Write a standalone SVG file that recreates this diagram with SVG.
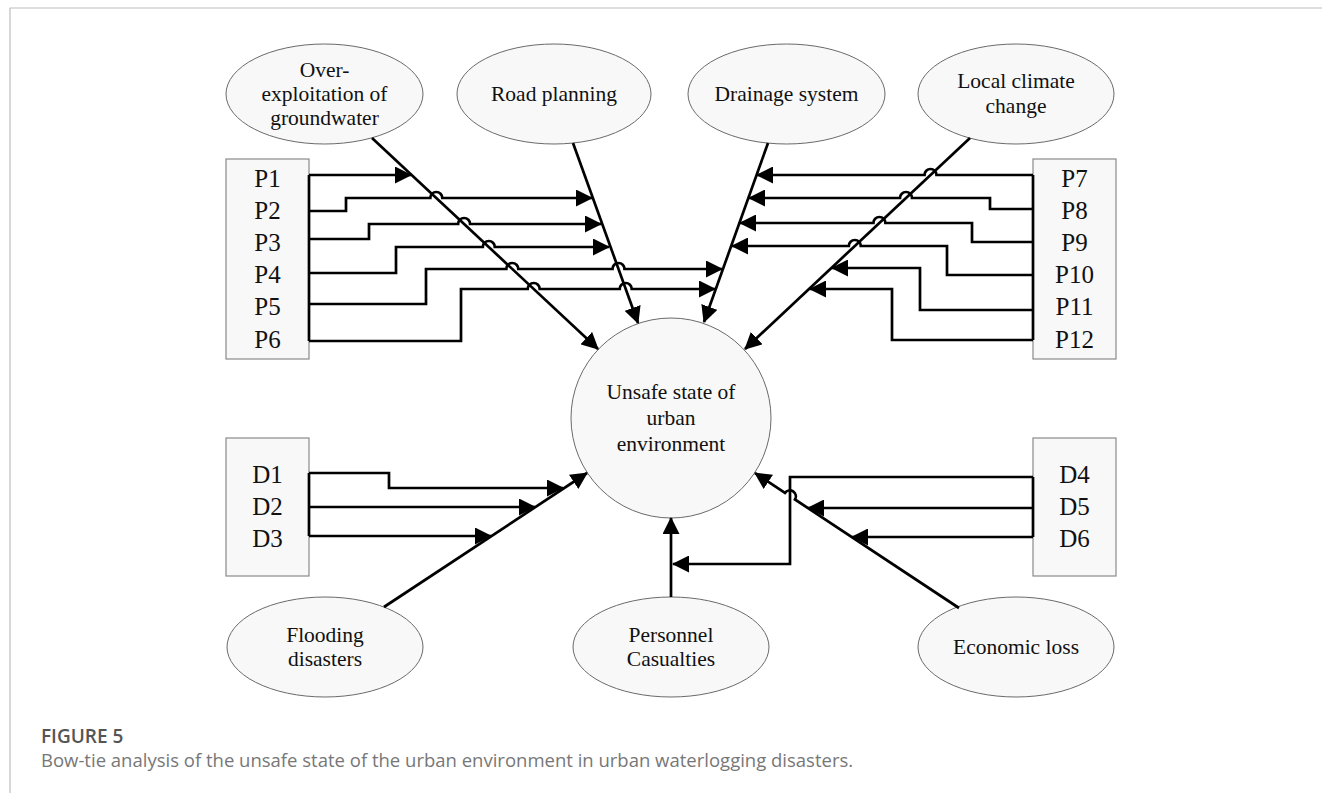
<svg xmlns="http://www.w3.org/2000/svg" width="1322" height="793" viewBox="0 0 1322 793">
  <defs>
    <style>
      .nd { fill: #f8f8f8; stroke: #6a6a6a; stroke-width: 1; }
      .bx { fill: #f8f8f8; stroke: #8a8a8a; stroke-width: 1.2; }
      .t { font-family: "Liberation Serif", "Times New Roman", serif; font-size: 21.5px; fill: #111; text-anchor: middle; }
      .lb { font-size: 25px; }
      .cn path { stroke: #000; stroke-width: 2.7; fill: none; }
      .cap1 { font-family: "Open Sans", "Noto Sans", sans-serif; font-size: 19px; font-weight: 600; fill: #555; }
      .cap2 { font-family: "Open Sans", "Noto Sans", sans-serif; font-size: 18.5px; fill: #777; }
    </style>
    <marker id="ah" markerWidth="18" markerHeight="17" refX="16" refY="8.5" orient="auto" markerUnits="userSpaceOnUse">
      <path d="M0,0 L17,8.5 L0,17 z" fill="#000"/>
    </marker>
  </defs>

  <rect width="1322" height="793" fill="#fff"/>
  <!-- page frame -->
  <path d="M10,793 V8 H1322" fill="none" stroke="#bdbdbd" stroke-width="1.2"/>

  <!-- causes (top) -->
  <g id="cause-groundwater">
    <ellipse class="nd" cx="324.5" cy="94" rx="98.5" ry="50"/>
    <text class="t" x="324.5" y="77">Over-</text>
    <text class="t" x="324.5" y="101">exploitation of</text>
    <text class="t" x="324.5" y="125">groundwater</text>
  </g>
  <g id="cause-road">
    <ellipse class="nd" cx="554" cy="94" rx="97" ry="50"/>
    <text class="t" x="554" y="101">Road planning</text>
  </g>
  <g id="cause-drainage">
    <ellipse class="nd" cx="786.5" cy="94" rx="98.5" ry="50"/>
    <text class="t" x="786.5" y="101">Drainage system</text>
  </g>
  <g id="cause-climate">
    <ellipse class="nd" cx="1016" cy="94" rx="98" ry="50"/>
    <text class="t" x="1016" y="88">Local climate</text>
    <text class="t" x="1016" y="113">change</text>
  </g>

  <!-- factor lists -->
  <g id="factors-left">
    <rect class="bx" x="226" y="159" width="83" height="200"/>
    <text class="t lb" x="267.5" y="187">P1</text>
    <text class="t lb" x="267.5" y="219">P2</text>
    <text class="t lb" x="267.5" y="251">P3</text>
    <text class="t lb" x="267.5" y="283">P4</text>
    <text class="t lb" x="267.5" y="315">P5</text>
    <text class="t lb" x="267.5" y="348">P6</text>
  </g>
  <g id="factors-right">
    <rect class="bx" x="1033" y="159" width="83" height="200"/>
    <text class="t lb" x="1074.5" y="187">P7</text>
    <text class="t lb" x="1074.5" y="219">P8</text>
    <text class="t lb" x="1074.5" y="251">P9</text>
    <text class="t lb" x="1074.5" y="283">P10</text>
    <text class="t lb" x="1074.5" y="315">P11</text>
    <text class="t lb" x="1074.5" y="348">P12</text>
  </g>

  <!-- central event -->
  <g id="top-event">
    <circle class="nd" cx="671" cy="418" r="100"/>
    <text class="t" x="671" y="399">Unsafe state of</text>
    <text class="t" x="671" y="425">urban</text>
    <text class="t" x="671" y="451">environment</text>
  </g>

  <!-- consequence factor lists -->
  <g id="consequence-left">
    <rect class="bx" x="226" y="438" width="83" height="138"/>
    <text class="t lb" x="267.5" y="483">D1</text>
    <text class="t lb" x="267.5" y="515">D2</text>
    <text class="t lb" x="267.5" y="547">D3</text>
  </g>
  <g id="consequence-right">
    <rect class="bx" x="1033" y="438" width="83" height="138"/>
    <text class="t lb" x="1074.5" y="483">D4</text>
    <text class="t lb" x="1074.5" y="515">D5</text>
    <text class="t lb" x="1074.5" y="547">D6</text>
  </g>

  <!-- consequences (bottom) -->
  <g id="result-flooding">
    <ellipse class="nd" cx="325" cy="647" rx="98" ry="50"/>
    <text class="t" x="325" y="642">Flooding</text>
    <text class="t" x="325" y="666">disasters</text>
  </g>
  <g id="result-casualties">
    <ellipse class="nd" cx="671" cy="647" rx="98" ry="50"/>
    <text class="t" x="671" y="642">Personnel</text>
    <text class="t" x="671" y="666">Casualties</text>
  </g>
  <g id="result-loss">
    <ellipse class="nd" cx="1016" cy="647" rx="98" ry="50"/>
    <text class="t" x="1016" y="654">Economic loss</text>
  </g>

  <!-- connectors -->
  <g id="connectors" class="cn">
    <!-- cause lines into the central event -->
    <path d="M372,138 L598,349" marker-end="url(#ah)"/>
    <path d="M573,143 L638,323" marker-end="url(#ah)"/>
    <path d="M768,143 L704,322" marker-end="url(#ah)"/>
    <path d="M970,138 L745,349" marker-end="url(#ah)"/>

    <!-- left factors -->
    <path d="M309,175 V341"/>
    <path d="M309,175 H411" marker-end="url(#ah)"/>
    <path d="M309,211 H346 V198 H430.3 A6,6 0 0 1 442.3,198 H592" marker-end="url(#ah)"/>
    <path d="M309,239 H369 V224 H458.1 A6,6 0 0 1 470.1,224 H601" marker-end="url(#ah)"/>
    <path d="M309,273 H396 V247 H482.8 A6,6 0 0 1 494.8,247 H609" marker-end="url(#ah)"/>
    <path d="M309,304 H426 V269 H506.3 A6,6 0 0 1 518.3,269 H612.5 A6,6 0 0 1 624.5,269 H722" marker-end="url(#ah)"/>
    <path d="M309,341 H461 V289 H527.7 A6,6 0 0 1 539.7,289 H619.7 A6,6 0 0 1 631.7,289 H715" marker-end="url(#ah)"/>

    <!-- right factors -->
    <path d="M1033,175 V340"/>
    <path d="M1033,175 H936.5 A6,6 0 0 0 924.5,175 H757" marker-end="url(#ah)"/>
    <path d="M1033,209 H990 V198 H912 A6,6 0 0 0 900,198 H749" marker-end="url(#ah)"/>
    <path d="M1033,242 H972 V223 H885.4 A6,6 0 0 0 873.4,223 H740" marker-end="url(#ah)"/>
    <path d="M1033,275 H947 V246 H860.8 A6,6 0 0 0 848.8,246 H732" marker-end="url(#ah)"/>
    <path d="M1033,310 H920 V268 H832" marker-end="url(#ah)"/>
    <path d="M1033,340 H892 V289 H810" marker-end="url(#ah)"/>

    <!-- consequence lines from the central event -->
    <path d="M384,607 L587,473" marker-end="url(#ah)"/>
    <path d="M671,597 L671,518" marker-end="url(#ah)"/>
    <path d="M959,608 L795,499.5 A6,6 0 0 0 785,492.9 L755,473" marker-end="url(#ah)"/>

    <!-- left consequence factors -->
    <path d="M309,473 V536"/>
    <path d="M309,473 H389 V488 H563" marker-end="url(#ah)"/>
    <path d="M309,507 H535" marker-end="url(#ah)"/>
    <path d="M309,536 H491" marker-end="url(#ah)"/>

    <!-- right consequence factors -->
    <path d="M1033,477 V537"/>
    <path d="M1033,477 H790 V564 H673" marker-end="url(#ah)"/>
    <path d="M1033,508 H808" marker-end="url(#ah)"/>
    <path d="M1033,537 H852" marker-end="url(#ah)"/>
  </g>

  <!-- caption -->
  <text class="cap1" x="41" y="743">FIGURE 5</text>
  <text class="cap2" x="41" y="767">Bow-tie analysis of the unsafe state of the urban environment in urban waterlogging disasters.</text>
</svg>
